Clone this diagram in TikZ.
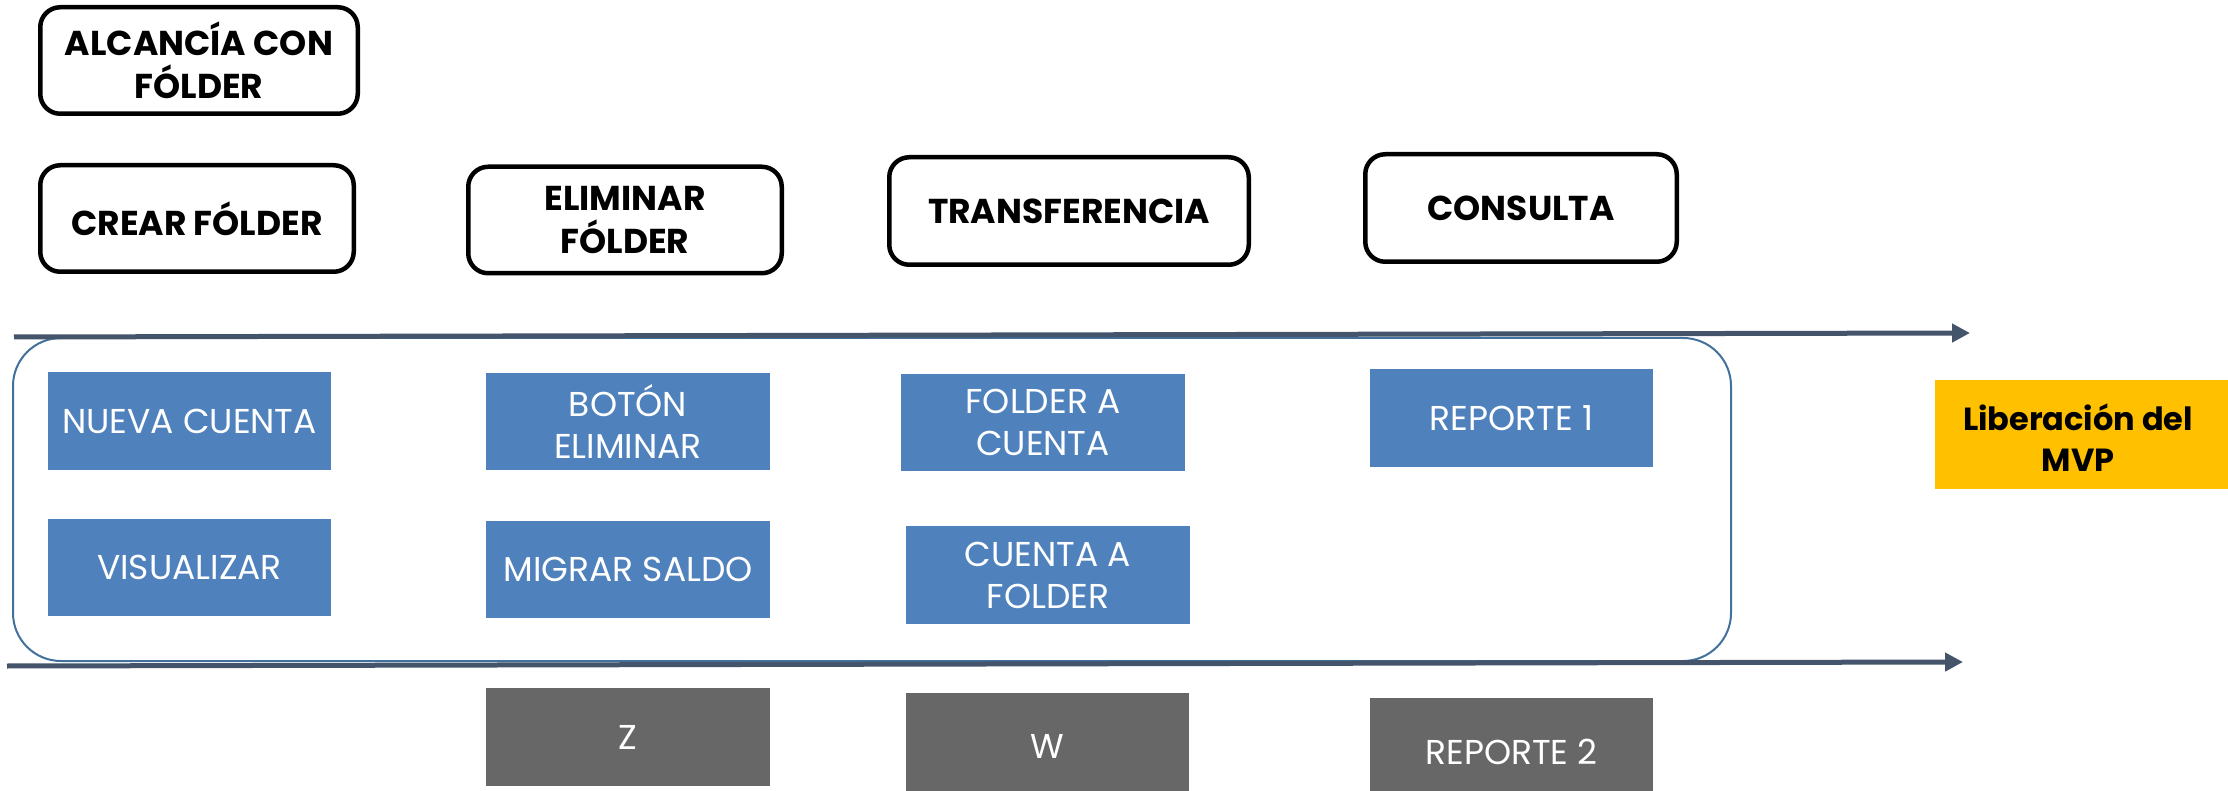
\documentclass[tikz,border=0pt]{standalone}
\usepackage{fontspec}
\setmainfont{Poppins}
\usetikzlibrary{arrows.meta}
\definecolor{bluebox}{HTML}{4F81BD}
\definecolor{graybox}{HTML}{676767}
\definecolor{yellowbox}{HTML}{FFC000}
\definecolor{arrowc}{HTML}{44546A}
\definecolor{frame}{HTML}{41719C}
\tikzset{
  hdr/.style={draw=black, line width=4.5pt, rounded corners=20pt, fill=white, align=center, inner sep=0pt,
    font=\bfseries\fontsize{34.5}{43}\selectfont},
  item/.style={fill=bluebox, text=white, align=center, inner sep=0pt,
    font=\fontsize{34.5}{42}\selectfont},
  gitem/.style={item, fill=graybox},
  tl/.style={draw=arrowc, line width=5pt, -{Triangle[length=18pt,width=18pt]}},
}
\begin{document}
\begin{tikzpicture}[x=1pt,y=-1pt]
\clip (0,0) rectangle (2228,791);
\fill[white] (0,0) rectangle (2228,791);
% header boxes
\node[hdr, minimum width=317.5pt, minimum height=106.5pt] (alc) at (199,60.5) {ALCANCÍA CON\\FÓLDER};
\node[hdr, minimum width=313.5pt, minimum height=106.5pt] (crear) at (197,218.5) {CREAR FÓLDER};
\node[hdr, minimum width=313.5pt, minimum height=106.5pt] (elim) at (625,220) {ELIMINAR\\FÓLDER};
\node[hdr, minimum width=359.5pt, minimum height=107.5pt] (transf) at (1069,211) {TRANSFERENCIA};
\node[hdr, minimum width=311.5pt, minimum height=107.5pt] (cons) at (1521,208) {CONSULTA};
% frame
\node[draw=frame, line width=2pt, rounded corners=48pt, minimum width=1718pt, minimum height=323pt, inner sep=0pt] (frm) at (872,499.5) {};
% timeline arrows
\coordinate (t1) at (14,337);
\coordinate (t2) at (1970,333);
\coordinate (b1) at (7,666);
\coordinate (b2) at (1963,662);
\draw[tl] (t1) -- (t2);
\draw[tl] (b1) -- (b2);
% blue items
\node[item, minimum width=283pt, minimum height=98pt] (nueva) at (189.5,421) {NUEVA CUENTA};
\node[item, minimum width=283pt, minimum height=97pt] (visu) at (189.5,567.5) {VISUALIZAR};
\node[item, minimum width=284pt, minimum height=97pt] (boton) at (628,421.5) {BOTÓN\\ELIMINAR};
\node[item, minimum width=284pt, minimum height=97pt] (migrar) at (628,569.5) {MIGRAR SALDO};
\node[item, minimum width=284pt, minimum height=97pt] (fac) at (1043,422.5) {FOLDER A\\CUENTA};
\node[item, minimum width=284pt, minimum height=98pt] (caf) at (1048,575) {CUENTA A\\FOLDER};
\node[item, minimum width=283pt, minimum height=98pt] (rep1) at (1511.5,418) {REPORTE 1};
% gray items
\node[gitem, minimum width=284pt, minimum height=98pt] (z) at (628,737) {Z};
\node[gitem, minimum width=283pt, minimum height=106pt] (w) at (1047.5,746) {W};
\node[gitem, minimum width=283pt, minimum height=108pt] (rep2) at (1511.5,752) {REPORTE 2};
% MVP
\node[fill=yellowbox, minimum width=293pt, minimum height=109pt, inner sep=0pt] (mvp) at (2081.5,434.5) {};
\node[align=center, inner sep=0pt, font=\bfseries\fontsize{32}{41}\selectfont] (mvpt) at (2078,438) {Liberación del\\MVP};
\end{tikzpicture}
\end{document}
